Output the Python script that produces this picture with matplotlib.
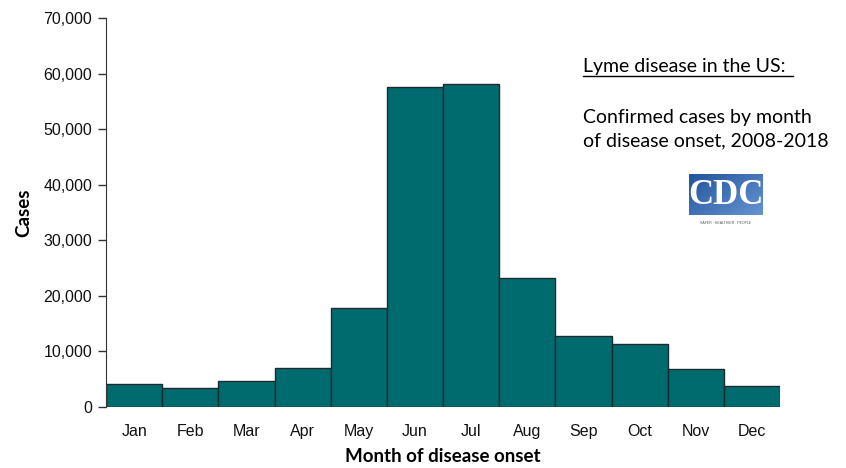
import numpy as np
import matplotlib
matplotlib.use("Agg")
import matplotlib.pyplot as plt
from matplotlib.ticker import FuncFormatter

months = ['Jan', 'Feb', 'Mar', 'Apr', 'May', 'Jun',
          'Jul', 'Aug', 'Sep', 'Oct', 'Nov', 'Dec']
cases = [4100, 3420, 4620, 6960, 17760, 57530,
         58070, 23270, 12780, 11340, 6840, 3780]
y_ticks = [0, 10000, 20000, 30000, 40000, 50000, 60000, 70000]

plt.rcParams['font.family'] = ['Liberation Sans', 'DejaVu Sans']

fig = plt.figure(figsize=(8.46, 4.68), dpi=100)
ax = fig.add_axes([106 / 846, 1 - 407 / 468, (780 - 106) / 846, (407 - 18) / 468])

x = np.arange(len(months))
ax.bar(x, cases, width=1.0, color='#006b6e', edgecolor='#1b2b2e', linewidth=1.0)

ax.set_xlim(-0.5, len(months) - 0.5)
ax.set_ylim(0, 70000)
ax.set_yticks(y_ticks)
ax.yaxis.set_major_formatter(FuncFormatter(lambda v, p: f'{int(v):,}'))
ax.set_xticks(x)
ax.set_xticklabels(months)
ax.tick_params(axis='y', length=6, width=1, color='#333333', labelsize=11.5,
               labelcolor='#111111', pad=4)
ax.tick_params(axis='x', length=0, labelsize=11.5, labelcolor='#111111', pad=12)

for s in ['top', 'right', 'bottom']:
    ax.spines[s].set_visible(False)
ax.spines['left'].set_color('#333333')

ax.set_xlabel('Month of disease onset', fontsize=13.5, fontweight='bold',
              family=['Lato', 'DejaVu Sans'], labelpad=7)
ax.set_ylabel('Cases', fontsize=13.5, fontweight='bold',
              family=['Lato', 'DejaVu Sans'], labelpad=8)

# title block on the right
fig.text(583 / 846, 1 - 67 / 468, 'Lyme disease in the US:', fontsize=14,
         family=['Lato', 'DejaVu Sans'], va='center', ha='left')
fig.add_artist(plt.Line2D([583 / 846, 793 / 846], [1 - 76 / 468, 1 - 76 / 468],
                          color='black', linewidth=1))
fig.text(583 / 846, 1 - 118 / 468, 'Confirmed cases by month', fontsize=14,
         family=['Lato', 'DejaVu Sans'], va='center', ha='left')
fig.text(583 / 846, 1 - 141 / 468, 'of disease onset, 2008-2018', fontsize=14,
         family=['Lato', 'DejaVu Sans'], va='center', ha='left')

# CDC logo
logo = fig.add_axes([689 / 846, 1 - 215 / 468, 74 / 846, 41 / 468])
gx, gy = np.meshgrid(np.linspace(0, 1, 80), np.linspace(0, 1, 40))
g = 0.55 * gx + 0.45 * gy
c0 = np.array([0.13, 0.33, 0.62])
c1 = np.array([0.40, 0.58, 0.82])
img = c0 + (c1 - c0) * g[..., None]
logo.imshow(img, extent=[0, 1, 0, 1], aspect='auto', origin='upper')
logo.text(0.5, 0.48, 'CDC', color='white', fontsize=25, fontweight='bold',
          family=['Liberation Serif', 'DejaVu Serif'], ha='center', va='center')
logo.set_axis_off()
fig.text(726 / 846, 1 - 223 / 468, 'SAFER \u00b7 HEALTHIER \u00b7 PEOPLE', fontsize=2.5,
         color='#555555', ha='center', va='center')

fig.savefig('out.png', dpi=100)
